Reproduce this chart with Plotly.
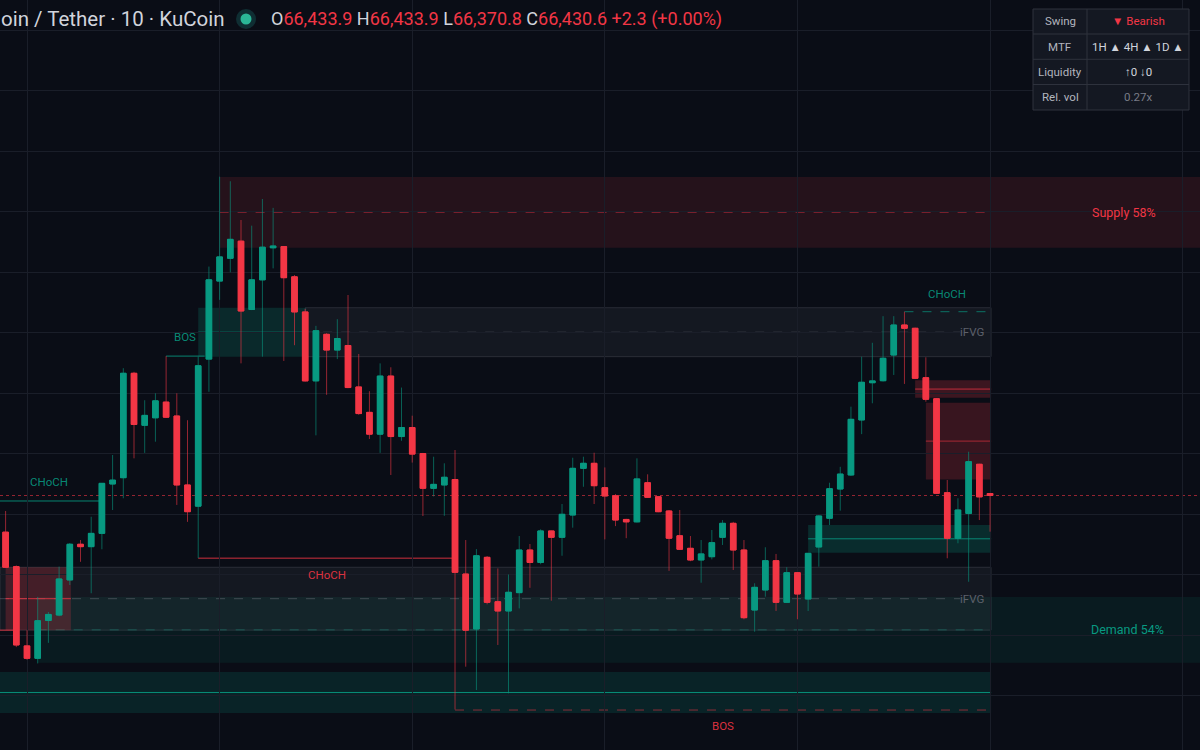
import plotly.graph_objects as go

# ---------------- data ----------------
opens = [66370, 66313, 66182, 66161.5, 66224, 66233, 66291, 66350, 66346, 66368,
         66449.6, 66460, 66632.6, 66546.6, 66559, 66585, 66562, 66448, 66413, 66656,
         66785, 66822.7, 66851, 66738, 66787, 66840, 66842, 66792, 66734, 66620,
         66697, 66671, 66678.5, 66610, 66568, 66532, 66628, 66528, 66543, 66500,
         66442.5, 66448, 66457, 66300.8, 66210, 66328.4, 66255, 66239.7, 66270, 66340.5,
         66320, 66372, 66361.5, 66398.3, 66475.5, 66483.8, 66443.5, 66430, 66391, 66387,
         66451.7, 66428.6, 66405, 66364, 66343.3, 66324, 66329.4, 66361.5, 66384.6, 66340.5,
         66241.3, 66274.4, 66322.8, 66254, 66303, 66259.5, 66345.5, 66393, 66441.3, 66464.5,
         66555.4, 66617, 66620.3, 66662.8, 66712.4, 66707, 66625.3, 66590.6, 66435.2, 66360,
         66401, 66482.2, 66433.9]
highs = [66405, 66315, 66208, 66263, 66238, 66313, 66352, 66357, 66395.5, 66451,
         66497.5, 66641, 66635, 66588, 66599.5, 66661, 66599.5, 66555, 66660, 66809,
         66957.5, 66950, 66886, 66876.6, 66920.7, 66906, 66843, 66795, 66739, 66711,
         66699, 66722, 66762, 66664.5, 66603, 66649, 66642.5, 66609, 66562.5, 66501,
         66494.7, 66483.8, 66505.8, 66357, 66342, 66330.6, 66310, 66300, 66363.6, 66350.4,
         66374.7, 66372.5, 66416.5, 66493, 66494.7, 66501.3, 66477, 66433, 66392, 66492,
         66465.6, 66429.5, 66406.6, 66406.6, 66363.6, 66357, 66373.6, 66390, 66387, 66357,
         66285.5, 66345, 66334, 66312, 66304, 66335.5, 66398, 66451.7, 66478, 66577.4,
         66660, 66683, 66727, 66727, 66734.4, 66708, 66659, 66591.7, 66456.2, 66426,
         66503, 66483, 66433.9]
lows = [66311, 66180, 66159, 66153, 66187, 66231, 66282.6, 66321, 66269, 66341.7,
        66406.6, 66426, 66492, 66501, 66519.5, 66558.7, 66415, 66387, 66327, 66602,
        66754, 66799.5, 66649, 66737, 66660, 66806, 66653, 66679, 66619, 66530,
        66597, 66656, 66608, 66564, 66524, 66501, 66464.5, 66521, 66485, 66396.7,
        66429, 66397, 66076.8, 66147.6, 66109, 66250.7, 66183.5, 66103.6, 66244, 66278,
        66317, 66256.7, 66331, 66377.4, 66445, 66416.5, 66358, 66380, 66360, 66386,
        66427, 66403, 66306, 66340.5, 66322, 66286.4, 66325, 66348.8, 66307.4, 66226,
        66205.4, 66263.3, 66239.7, 66253, 66226, 66239.7, 66313, 66381.8, 66405.5, 66463,
        66532, 66583, 66619, 66629.8, 66615, 66623, 66585.6, 66433, 66326.8, 66351.6,
        66288, 66390, 66370.8]
closes = [66312, 66183.5, 66161.5, 66223.6, 66234, 66292.6, 66350, 66346, 66368, 66450.7,
          66456, 66632.6, 66548, 66563, 66587, 66560, 66448, 66403.8, 66645, 66787,
          66825, 66854, 66735.5, 66787, 66841, 66843, 66790.6, 66734, 66620, 66703,
          66671, 66690, 66609, 66566, 66532, 66628, 66528, 66543, 66499, 66442.5,
          66449, 66460.7, 66303.6, 66208, 66331, 66254, 66239.7, 66270.6, 66340.5, 66320,
          66372, 66361.5, 66399.5, 66475.5, 66483.8, 66446.8, 66429.8, 66390, 66387, 66458,
          66427.6, 66403.8, 66360, 66341.7, 66324, 66334, 66352.6, 66384.6, 66340.5, 66228.6,
          66278.8, 66322.8, 66254, 66303, 66267.8, 66335, 66396.7, 66441.8, 66466, 66556.5,
          66617.7, 66620, 66657.4, 66712.4, 66707, 66624.3, 66589.6, 66434.2, 66360, 66406.6,
          66486.5, 66428.3, 66430.6]
bars = list(range(len(opens)))

# zones: [start bar, end bar (None = chart edge), top price, bottom price]
supply_zone = [20, None, 66957.0, 66840.0]
demand_zone = [3, None, 66263.0, 66154.0]
ifvg_upper = [28, 92, 66741.0, 66660.0]
ifvg_lower = [None, 92, 66312.0, 66208.0]
bull_ob_upper = [18, 28, 66741.0, 66660.0]
bear_ob_lower = [0, 6, 66312.0, 66208.0]
liquidity_zone = [None, 92, 66139.0, 66071.0]
bear_box_a = [85, 92, 66621.0, 66592.0]
bear_box_b = [86, 92, 66584.0, 66457.0]
bull_box_r = [75, 92, 66382.0, 66336.0]

# structure lines: [start bar, end bar, price]
choch_bull_left = [None, 9, 66421.5]
bos_bull = [15, 18.6, 66661.0]
choch_bear = [18, 42, 66327.0]
bos_bear = [42, 92, 66076.0]
choch_bull_right = [84, 92, 66734.4]
old_bear_line = [None, 0.7, 66208.0]

supply_label = "Supply 58%"
demand_label = "Demand 54%"
symbol_text = "oin / Tether · 10 · KuCoin"
table_rows = [("Swing", "▼ Bearish"), ("MTF", "1H ▲ 4H ▲ 1D ▲"),
              ("Liquidity", "↑0 ↓0"), ("Rel. vol", "0.27x")]

# ---------------- styling ----------------
BG = "#0a0d16"
GRID = "#1a1e29"
GREEN = "#089981"
RED = "#f23645"
TEXT = "#d1d4dc"
GRAY = "#787b86"
FONT = "Roboto"
W, H = 1200, 750

X_LEFT, X_RIGHT = -0.523, 111.62
Y_BOT, Y_TOP = 66009.92, 67249.59


def px(x):
    return x / W


def py(y):
    return 1 - y / H


def xs(v, default):
    return default if v is None else v


fig = go.Figure()

body_hi = [max(o, c) for o, c in zip(opens, closes)]
body_lo = [min(o, c) for o, c in zip(opens, closes)]

# wicks (dimmer)
fig.add_trace(go.Candlestick(
    x=bars, open=opens, high=highs, low=lows, close=closes,
    increasing=dict(line=dict(color="rgba(8,153,129,0.6)", width=1), fillcolor=GREEN),
    decreasing=dict(line=dict(color="rgba(242,54,69,0.6)", width=1), fillcolor=RED),
    hoverinfo="skip", showlegend=False))
# bodies
fig.add_trace(go.Candlestick(
    x=bars, open=opens, high=body_hi, low=body_lo, close=closes,
    increasing=dict(line=dict(color=GREEN, width=1), fillcolor=GREEN),
    decreasing=dict(line=dict(color=RED, width=1), fillcolor=RED),
    hoverinfo="skip", showlegend=False))

shapes = []


def zone(z, fill, border=None, mid_color=None, mid_dash="solid", mid_end=None):
    x0 = xs(z[0], X_LEFT)
    x1 = xs(z[1], X_RIGHT)
    if z[1] is not None:
        x1 = x1 + 0.1
    shapes.append(dict(type="rect", xref="x", yref="y", x0=x0, x1=x1, y0=z[3], y1=z[2],
                       fillcolor=fill, line=dict(width=1 if border else 0, color=border or fill),
                       layer="below"))
    if mid_color:
        m = (z[2] + z[3]) / 2
        shapes.append(dict(type="line", xref="x", yref="y", x0=x0,
                           x1=mid_end if mid_end is not None else x1, y0=m, y1=m,
                           line=dict(color=mid_color, width=1, dash=mid_dash), layer="below"))


def hline(l, color, dash="solid", width=1):
    x0 = xs(l[0], X_LEFT)
    x1 = xs(l[1], X_RIGHT)
    shapes.append(dict(type="line", xref="x", yref="y", x0=x0, x1=x1, y0=l[2], y1=l[2],
                       line=dict(color=color, width=width, dash=dash), layer="below"))


zone(supply_zone, "rgba(242,54,69,0.12)", mid_color="rgba(242,54,69,0.45)", mid_dash="dash",
     mid_end=92)
zone(demand_zone, "rgba(8,153,129,0.10)", mid_color="rgba(8,153,129,0.45)", mid_dash="dash",
     mid_end=92)
zone(ifvg_upper, "rgba(120,123,134,0.10)", border="rgba(120,123,134,0.25)",
     mid_color="rgba(120,123,134,0.45)", mid_dash="dash", mid_end=89.2)
zone(ifvg_lower, "rgba(120,123,134,0.10)", border="rgba(120,123,134,0.25)",
     mid_color="rgba(120,123,134,0.45)", mid_dash="dash", mid_end=89.2)
zone(bull_ob_upper, "rgba(8,153,129,0.20)", mid_color="rgba(8,153,129,0.8)")
zone(bear_ob_lower, "rgba(242,54,69,0.22)", mid_color="rgba(242,54,69,0.8)")
zone(liquidity_zone, "rgba(8,153,129,0.16)", mid_color="rgba(8,153,129,0.9)")
zone(bear_box_a, "rgba(242,54,69,0.22)", mid_color="rgba(242,54,69,0.75)")
zone(bear_box_b, "rgba(242,54,69,0.20)", mid_color="rgba(242,54,69,0.6)")
zone(bull_box_r, "rgba(8,153,129,0.22)", mid_color="rgba(8,153,129,0.85)")

hline(choch_bull_left, "rgba(8,153,129,0.85)")
hline(bos_bull, "rgba(8,153,129,0.85)")
hline(choch_bear, "rgba(242,54,69,0.85)")
hline(bos_bear, "rgba(242,54,69,0.55)", dash="dash")
hline(choch_bull_right, "rgba(8,153,129,0.7)", dash="dash")
hline(old_bear_line, "rgba(242,54,69,0.85)")
# current price line
hline([None, None, closes[-1]], "rgba(242,54,69,0.6)", dash="dot")

# ---------- table ----------
row_edges = [9, 34, 59.3, 84.5, 110]
col_edges = [1033, 1087, 1189]
shapes.append(dict(type="rect", xref="paper", yref="paper", x0=px(col_edges[0]), x1=px(col_edges[2]),
                   y0=py(row_edges[-1]), y1=py(row_edges[0]), fillcolor="#141822",
                   line=dict(color="#2e323d", width=1), layer="above"))
for ry in row_edges[1:-1]:
    shapes.append(dict(type="line", xref="paper", yref="paper", x0=px(col_edges[0]), x1=px(col_edges[2]),
                       y0=py(ry), y1=py(ry), line=dict(color="#2e323d", width=1), layer="above"))
shapes.append(dict(type="line", xref="paper", yref="paper", x0=px(col_edges[1]), x1=px(col_edges[1]),
                   y0=py(row_edges[-1]), y1=py(row_edges[0]), line=dict(color="#2e323d", width=1),
                   layer="above"))

# ---------- header circle ----------
shapes.append(dict(type="circle", xref="paper", yref="paper", x0=px(236), x1=px(256),
                   y0=py(29), y1=py(9), fillcolor="rgba(38,166,154,0.22)", line=dict(width=0),
                   layer="above"))
shapes.append(dict(type="circle", xref="paper", yref="paper", x0=px(240.5), x1=px(251.5),
                   y0=py(24.5), y1=py(13.5), fillcolor="#2bb596", line=dict(width=0),
                   layer="above"))

annotations = []


def label(x, y, text, color, yshift, size=11.5):
    annotations.append(dict(x=x, y=y, xref="x", yref="y", text=text, showarrow=False,
                            font=dict(family=FONT, size=size, color=color), yshift=yshift,
                            xanchor="center", yanchor="middle"))


def mid_x(l):
    return (xs(l[0], X_LEFT) + xs(l[1], X_RIGHT)) / 2


label(mid_x([0, 9]) - 0.4, choch_bull_left[2], "CHoCH", "rgba(8,153,129,0.9)", 19)
label(mid_x(bos_bull), bos_bull[2], "BOS", "rgba(8,153,129,0.9)", 19)
label(mid_x(choch_bear), choch_bear[2], "CHoCH", "rgba(242,54,69,0.9)", -17)
label(mid_x(bos_bear), bos_bear[2], "BOS", "rgba(242,54,69,0.9)", -16)
label(mid_x(choch_bull_right), choch_bull_right[2], "CHoCH", "rgba(8,153,129,0.9)", 18)

for z in (ifvg_upper, ifvg_lower):
    annotations.append(dict(x=91.6, y=(z[2] + z[3]) / 2, xref="x", yref="y", text="iFVG",
                            showarrow=False, xanchor="right", yanchor="middle",
                            font=dict(family=FONT, size=11.5, color="#5d606b")))

annotations.append(dict(x=px(1123.5), y=(supply_zone[2] + supply_zone[3]) / 2, xref="paper", yref="y",
                        text=supply_label, showarrow=False, xanchor="center", yanchor="middle",
                        font=dict(family=FONT, size=12.5, color=RED)))
annotations.append(dict(x=px(1127.5), y=(demand_zone[2] + demand_zone[3]) / 2, xref="paper", yref="y",
                        text=demand_label, showarrow=False, xanchor="center", yanchor="middle",
                        font=dict(family=FONT, size=12.5, color=GREEN)))

# header
annotations.append(dict(x=px(-1), y=py(19), xref="paper", yref="paper", text=symbol_text, showarrow=False,
                        xanchor="left", yanchor="middle", font=dict(family=FONT, size=20.5, color=TEXT)))
chg = closes[-1] - closes[-2]
pct = chg / closes[-2] * 100


def fmt(v):
    return f"{v:,.1f}"


ohlc_text = (f"O<span style='color:{RED}'>{fmt(opens[-1])}</span> "
             f"H<span style='color:{RED}'>{fmt(highs[-1])}</span> "
             f"L<span style='color:{RED}'>{fmt(lows[-1])}</span> "
             f"C<span style='color:{RED}'>{fmt(closes[-1])}</span> "
             f"<span style='color:{RED}'>{chg:+.1f} ({pct:+.2f}%)</span>")
annotations.append(dict(x=px(269), y=py(19), xref="paper", yref="paper", text=ohlc_text,
                        showarrow=False, xanchor="left", yanchor="middle",
                        font=dict(family=FONT, size=18, color=TEXT)))

# table text
val_colors = [RED, TEXT, TEXT, GRAY]
for i, (k, v) in enumerate(table_rows):
    yc = (row_edges[i] + row_edges[i + 1]) / 2
    annotations.append(dict(x=px((col_edges[0] + col_edges[1]) / 2), y=py(yc), xref="paper", yref="paper",
                            text=k, showarrow=False, xanchor="center", yanchor="middle",
                            font=dict(family=FONT, size=11.5, color="#b2b5be")))
    annotations.append(dict(x=px((col_edges[1] + col_edges[2]) / 2), y=py(yc), xref="paper", yref="paper",
                            text=v, showarrow=False, xanchor="center", yanchor="middle",
                            font=dict(family=FONT, size=11.5, color=val_colors[i])))

fig.update_layout(
    width=W, height=H, margin=dict(l=0, r=0, t=0, b=0),
    paper_bgcolor=BG, plot_bgcolor=BG,
    shapes=shapes, annotations=annotations,
    boxmode="overlay", boxgap=0.25,
    showlegend=False,
    xaxis=dict(range=[X_LEFT, X_RIGHT], showticklabels=False, showline=False, zeroline=False,
               showgrid=True, gridcolor=GRID, gridwidth=1, tick0=2, dtick=18,
               rangeslider=dict(visible=False), fixedrange=True),
    yaxis=dict(range=[Y_BOT, Y_TOP], showticklabels=False, showline=False, zeroline=False,
               showgrid=True, gridcolor=GRID, gridwidth=1, tick0=66000, dtick=100, fixedrange=True),
)

fig.write_html("out.html", config={"displayModeBar": False},
               post_script="document.body.style.margin='0px';document.body.style.background='" + BG + "';")
